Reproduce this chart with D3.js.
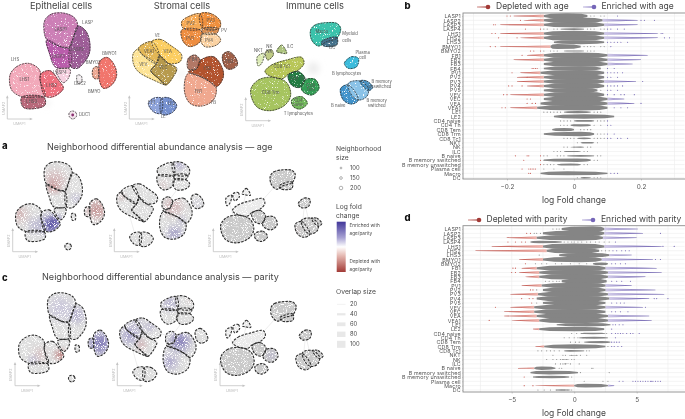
<!DOCTYPE html>
<html><head><meta charset="utf-8">
<script src="https://cdnjs.cloudflare.com/ajax/libs/d3/7.8.5/d3.min.js"></script>
<style>html,body{margin:0;padding:0;background:#fff}svg{display:block;opacity:.999}text{font-family:Inter,"Open Sans",sans-serif;fill:#4a4a4a}</style>
</head><body><div id="c"></div>
<script>
// ---------- DATA: differential abundance rows ----------
const rowLabels=["LASP1","LASP2","LASP3","LASP4","LHS1","LHS2","LHS3","BMYO1","BMYO2","FB1","FB2","FB3","FB4","PV1","PV2","PV3","PV4","PV5","VEV","VEC","VEA","VEA1","LE1","LE2","CD4 naive","CD4 Th","CD8 Tem","CD8 Trm","CD8 Tc1","NKT","NK","ILC","B naive","B memory switched","B memory unswitched","Plasma cell","Macro","DC"];
const ageLo=[-.09,-.09,-.09,-.04,-.09,-.09,-.06,-.07,-.03,-.09,-.09,-.09,-.09,-.1,-.09,-.09,-.09,-.09,-.09,-.09,-.1,-.11,-.03,-.06,0,-.01,-.065,-.09,.01,.02,-.01,-.03,-.02,-.09,-.05,-.03,-.1,.02];
const ageMid=[-.02,.01,.01,0,0,0,.02,-.05,0,.01,.01,.02,.02,.02,.02,.02,.02,.02,.02,.02,.02,.02,.01,.03,.03,.02,-.03,.02,.03,.04,.02,-.01,.02,.01,-.01,-.03,-.02,.03];
const ageHi=[.04,.085,.09,.03,.09,.09,.09,.02,.03,.1,.1,.1,.08,.09,.09,.09,.09,.07,.09,.1,.1,.1,.05,.12,.06,.05,0,.06,.05,.06,.03,.02,.06,.05,.02,-.03,.1,.05];
const ageWeight=[1,1,1,.3,1,1,.7,.9,.2,1,1,1,.8,1,1,1,1,.9,1,1,1,1,.4,.8,.35,.4,.6,.8,.3,.3,.2,.2,.3,.6,.35,.1,.7,.25];
const ageTailMin=[-.18,-.15,-.22,-.04,-.22,-.16,-.06,-.22,-.03,-.14,-.18,-.09,-.09,-.16,-.17,-.17,-.14,-.09,-.19,-.09,-.1,-.19,-.03,-.06,0,-.01,-.065,-.09,.01,.02,-.01,-.03,-.02,-.09,-.05,-.03,-.1,.02];
const ageTailMax=[.04,.19,.19,.03,.25,.25,.09,.02,.03,.22,.2,.175,.08,.09,.09,.185,.09,.07,.09,.15,.18,.1,.05,.12,.06,.05,0,.06,.05,.06,.03,.02,.06,.05,.02,-.03,.1,.05];
const ageDots=[[-.2,-.19,.05,.06,.08,.09,.13],[-.16,.2,.21,.24],[-.24,-.235],[-.145,-.1,-.09,-.08,-.06,-.05,.04,.05,.06,.08,.09,.1,.11,.13,.15],[-.245,-.235,.26,.265],[-.225,-.17,.27,.285],[.1,.11,.12,.13,.14,.16],[-.25,-.235,.03,.04,.05,.06,.08,.09,.11],[-.13,-.12,-.1,-.09,-.07,-.06,-.05,.04,.05,.06],[-.155],[],[],[-.125,-.12,-.115,-.11,.1,.12],[-.185,.1,.11,.12,.13,.145],[-.14,.1,.11,.13],[.205],[-.195,-.185,-.155,.1,.11,.12,.13,.145],[.08,.1,.11,.13],[-.21,-.2,.1,.12,.14,.15,.18],[-.14,-.13],[-.14,-.125,-.115,.2],[-.215,-.205,.12,.14,.16],[-.09,-.08,-.07,-.06,-.05,-.04,.06,.07,.08],[-.05,-.04],[-.04,-.03,-.02,-.01,.07,.08,.09,.1],[-.04,-.03,-.02,.06,.08,.1,.11],[.02,.03,.04,.05],[.07,.08,.09,.1,.12],[-.03,-.02,-.01,0,.06,.07,.08,.09,.1,.11,.13,.14,.16],[.01,.07],[-.03,-.02,0,.04,.05],[-.06,-.05,-.04,-.02,.03,.04],[-.175,-.14,-.135,-.1,-.09,-.08,-.05,-.04,-.03,.07,.08],[-.15,-.1,-.09,.06,.07],[-.1,-.09,-.08,-.07,-.06,.03,.04],[-.155,-.135,-.13,-.125,-.12,-.115,-.09,-.06,-.03],[-.135,-.13,.11,.12,.13],[.01,.06,.07,.08]];

const parLo=[-1,-2.5,-3,-3.5,-2.5,-2.2,-1.2,-2.5,1.5,-3,-2.8,-2.8,-1,-2.6,-2.5,-2.9,-3,-2.5,-3.2,-3.2,-3,-2.8,-1.4,-2.8,.5,.4,.8,-2.4,-.8,-.4,-1,-.8,-3.2,-3.5,-3.3,.5,0,-1.5];
const parMid=[1.5,1,.5,-2.8,0,0,1,.5,2.2,.5,.5,.5,1,.5,.5,0,0,.5,0,0,0,0,1,0,1.5,1.6,2.2,0,-.3,-.4,-1,-.8,-2.6,-2,-1.8,.5,.9,-1];
const parHi=[2.4,2.4,2.3,-1,2.4,2,2.8,2.2,2.7,2.5,2.7,2.7,2.6,2.5,2.5,2.7,2.8,2.5,2.5,2.5,2.7,2.7,2.9,2.4,2.5,2.7,2.9,2.5,.8,.3,-.4,-.4,-1.5,.3,-.4,.5,2.7,-.3];
const parWeight=[1,1,1,.45,1,1,.8,1,.5,1,1,1,1,1,1,1,1,.9,1,1,1,1,.6,.8,.25,.35,.4,.8,.3,.1,.1,.1,.6,.65,.45,0,.7,.25];
const parTailMin=[-1,-2.5,-5.4,-3.5,-6.6,-7.9,-1.2,-4.4,1.5,-4.2,-4.4,-3.9,-1,-4.2,-2.5,-5.1,-3,-2.5,-5.1,-5.6,-5.6,-5,-1.4,-3.3,.5,.4,.8,-3.1,-.8,-.4,-1,-.8,-4.5,-3.5,-3.3,.5,-3.1,-1.5];
const parTailMax=[5.1,5.5,5,-1,7,2,4.6,6.3,2.7,6.6,7,5.7,2.6,4.6,6.5,7.2,6,2.5,5.5,2.5,6,6.2,2.9,2.4,2.5,2.7,2.9,2.5,.8,.3,-.4,-.4,-1.5,.3,-.4,.5,3.2,-.3];
const parDots=[[-1.7,-1.4,-1.2],[-3.8,-3.5,-3.2,-3,-2.7,6.9],[],[-5.3,-4.7,-4.2,-3.9,-.8,-.5,-.2,0,.3,.6,1,1.3,1.7,2,2.4,2.8,3.3],[7.1,8],[2.2,2.5,2.8,3.1,3.4,3.8,4.1,4.4],[-2.8],[6.5,6.9],[-3.9,-3.1,-2.6,-2.2,-1.5,-1,-.3,.4,1,3,3.3,3.7,4.1],[-4.9,-4.7],[-5,-4.7],[],[-2.3,-2,-1.7,-1.4,-1.2,3,3.4,3.8,4.5],[],[-3.5,-3.3,-3],[],[-4.2,-3.6,-3.3,6.4,6.6,7.5],[-3.4,-3,3,3.4,3.7,4],[-6.3,5.7],[3,3.3,3.7,4.3],[],[-6.8],[3.1,3.3,3.6,3.9],[3],[-.2,.2,.6,1,2.6,3,3.3,3.5,3.7,3.9,4.2,4.5,4.7,5.2],[-.8,-.4,0,.3,.7,1,3.3],[-.3,.1,.4,3,3.2,3.4,3.6],[2.7,3,3.2,3.5,3.8],[-2.9,-2.6,-2.2,-1.9,-1.6,-1.2,1,1.2],[-1.7,-.9,-.7,-.2,.2,.5,1],[-2.2,-1.7,-1.4,-1.1,-.9,-.6,-.2,0],[-1.5,-1.1,-.9,-.7,-.3,.4],[1.4,1.5,-1.2,-1],[2.8,.5],[-4,-3,-2.9,-.2],[.8,2.3,2.7,3.6,3.9,4.7,4.9,5.1,5.3,5.5,5.7,5.9,6.1,6.2,6.3,6.5,6.7,6.9],[-4,-3.3],[-2.9,-2.4,-1.9,-1.4,-.8,-.5,-.2]];

// ---------- DATA: cluster outlines in UMAP units ----------
const epithelial={LASP1:[[135,60],[155,42],[195,40],[225,55],[233,80],[222,105],[210,140],[185,140],[140,118],[132,90]],LASP2:[[233,78],[255,90],[268,120],[268,160],[250,190],[232,205],[212,200],[208,148],[222,108]],LASP3:[[140,120],[185,142],[208,148],[210,200],[190,205],[165,200],[150,165]],LASP4:[[168,210],[210,208],[205,235],[190,248],[175,230]],LHS1:[[30,225],[50,200],[85,190],[115,205],[122,222],[120,240],[135,288],[110,291],[65,290],[35,270]],LHS2:[[122,222],[150,212],[175,240],[190,265],[160,290],[135,288],[122,250]],LHS3:[[65,292],[132,292],[135,315],[110,325],[70,322]],DDC2:[[232,225],[244,228],[244,248],[234,250],[230,238]],BMYO2:[[280,205],[292,200],[295,235],[282,235],[277,222]],BMYO1:[[298,185],[320,172],[340,190],[350,225],[335,255],[310,265],[298,240],[297,205]],DDC1:[[218,333],[228,338],[229,350],[218,357],[208,350],[208,338]]};
const stromal={VEA1:[[415,145],[455,125],[478,165],[468,190],[425,162]],VEA:[[455,125],[480,118],[510,135],[545,165],[540,185],[505,190],[478,165]],VEV:[[400,160],[415,147],[425,162],[468,192],[452,212],[475,235],[497,255],[460,240],[415,215],[400,190]],VEC:[[470,190],[478,167],[505,190],[530,205],[520,230],[497,255],[475,235],[453,212]],LE1:[[445,310],[460,295],[485,295],[482,340],[460,335]],LE2:[[485,295],[510,295],[530,315],[520,335],[495,345],[483,340]],PV2:[[545,65],[565,50],[600,42],[605,85],[550,85]],PV3:[[600,42],[630,40],[660,62],[658,85],[608,84]],PV5:[[608,86],[655,86],[650,100],[608,100]],PV1:[[545,90],[603,92],[600,125],[570,140],[550,125]],PV4:[[605,103],[648,103],[662,120],[650,135],[615,140],[603,125]],FB4:[[565,175],[585,165],[600,180],[590,205],[565,207]],FB2:[[600,182],[640,170],[665,200],[670,230],[650,260],[620,238],[565,215],[590,207]],FB1:[[565,220],[620,240],[648,262],[640,300],[605,318],[570,310],[553,270]],FB3:[[668,165],[685,155],[705,170],[712,195],[690,208],[675,200]]};
const immune={Macro:[[932,90],[945,75],[980,68],[1010,70],[1022,85],[1010,115],[980,125],[955,138],[935,120]],DC:[[965,125],[1010,112],[1010,135],[970,137]],Plasma:[[1033,190],[1055,170],[1075,175],[1070,200],[1045,205]],BNaive:[[1022,265],[1045,255],[1075,300],[1055,312],[1030,300]],BSwitched:[[1045,250],[1080,243],[1105,265],[1100,290],[1075,300],[1055,285]],BUnswitched:[[1080,243],[1100,243],[1118,262],[1105,272]],CD8Trm:[[752,270],[775,240],[820,232],[860,248],[872,285],[855,315],[810,332],[770,320]],CD8Tc1:[[795,215],[815,195],[860,180],[905,172],[912,190],[895,210],[865,222],[850,235],[810,228]],CD4Th:[[865,225],[895,215],[915,235],[900,262],[875,255]],CD8Tem:[[915,240],[945,238],[957,265],[935,285],[905,270]],CD4Naive:[[875,300],[905,290],[922,310],[900,327],[880,320]],NKT:[[772,170],[792,160],[785,190],[775,198]],NK:[[797,155],[815,150],[820,165],[803,180]],ILC:[[830,155],[845,135],[860,160],[840,158]]};
const clusterColors={LASP1:"#cc7fb6",LASP2:"#9c5c96",LASP3:"#b95cab",LASP4:"#f5d0e0",LHS1:"#f2a9ba",LHS2:"#ee6f7e",LHS3:"#b8677a",DDC2:"#f3eef0",BMYO2:"#eca892",BMYO1:"#f1746c",DDC1:"#f4e6ee",VEA1:"#e2b654",VEA:"#fbcd60",VEV:"#fde394",VEC:"#b79a4d",LE1:"#8fa4da",LE2:"#7490cf",PV2:"#f6aa55",PV3:"#ef8f3c",PV5:"#d98d50",PV1:"#ee8d40",PV4:"#fbd2a2",FB4:"#b27866",FB2:"#b2522f",FB1:"#f0a88f",FB3:"#a0604a",Macro:"#3bc2ab",DC:"#44728c",Plasma:"#3abbdb",BNaive:"#3f92ca",BSwitched:"#8ac2e7",BUnswitched:"#4b92c2",CD8Trm:"#a6c45e",CD8Tc1:"#b8c658",CD4Th:"#207c42",CD8Tem:"#329d54",CD4Naive:"#72b95c",NKT:"#dcebb6",NK:"#c0cc86",ILC:"#adc47f"};
const umapLabels=[["LASP1",182,90],["LASP",263,70],["LASP2",232,150],["LASP3",175,172],["LASP4",180,218],["LHS",45,180],["LHS1",73,240],["LHS2",155,258],["LHS3",95,305],["BMYO1",328,162],["BMYO2",280,190],["DDC2",240,252],["BMYO",283,275],["DDC1",253,345],["VE",472,107],["VEA1",447,157],["VEA",503,155],["VEV",430,195],["VEC",490,203],["FB4",580,180],["FB2",622,208],["FB1",595,275],["FB",640,310],["FB3",688,185],["PV2",572,72],["PV3",632,63],["PV5",632,91],["PV",672,92],["PV1",570,118],["PV4",627,124],["LE1",455,310],["LE2",515,313],["LE",490,352],["NKT",775,153],["NK",808,142],["NK",808,155],["ILC",870,142],["CD8 Tc1",845,200],["CD8 Trm",812,278],["CD4 Th",892,238],["CD8",932,258],["Tem",932,270],["CD4",895,303],["naive",895,315],["T lymphocytes",895,342],["Macro",965,95],["Myeloid",1050,103],["cells",1040,123],["DC",997,145],["Plasma",1088,160],["cell",1088,175],["B lymphocytes",1040,222],["B naive",1015,317],["B memory",1145,247],["unswitched",1140,262],["B memory",1130,303],["switched",1130,317]];
const panelLinks=[["LHS2","LASP4"],["LASP3","LASP4"],["LHS1","LASP4"],["VEA","FB4"],["FB2","FB3"],["FB1","FB3"],["LE1","VEV"],["PV4","FB4"],["CD8Trm","Macro"],["Plasma","BSwitched"],["Macro","DC"],["CD8Trm","NKT"],["CD8Trm","ILC"],["CD8Tem","CD8Tc1"],["Plasma","BNaive"]];
const ageSpots=[[155,267,36,.85],[172,255,16,.95],[99,267,26,.3],[45,230,28,-.3],[35,222,8,-.7],[171,105,40,-.28],[165,130,16,-.65],[247,170,12,.5],[322,212,36,-.5],[626,50,16,.45],[566,122,12,-.3],[416,164,10,-.5],[602,200,36,-.28],[608,297,24,.6],[632,249,10,.6],[689,188,10,.35],[1027,285,7,-.45]];
const paritySpots=[[176,260,16,-.9],[105,260,22,-.28],[81,278,13,.4],[176,94,46,.16],[236,118,28,.38],[319,219,44,.6],[577,65,22,.45],[648,54,9,-.3],[434,179,36,.38],[458,143,22,.3],[506,149,18,.3],[476,214,16,-.4],[613,202,38,.6],[577,274,28,.42],[934,259,13,.4],[190,262,7,-1]];
const sizeLegend=[100,150,200];
const overlapLegend=[20,40,60,80,100];

// ---------- LAYOUT ----------
const W=685,H=419;
const svg=d3.select("#c").append("svg").attr("width",W).attr("height",H);
const defs=svg.append("defs");
const T=(sel,x,y,s,size,opt={})=>sel.append("text").attr("x",x).attr("y",y).attr("font-size",size).attr("text-anchor",opt.a||"start").attr("font-weight",opt.w||400).attr("dominant-baseline","middle").style("fill",opt.c||"#4a4a4a").text(s);
const speckle=(id,cut,seed)=>{const f=defs.append("filter").attr("id",id).attr("x","-5%").attr("y","-5%").attr("width","110%").attr("height","110%");
 f.append("feTurbulence").attr("type","fractalNoise").attr("baseFrequency",1.1).attr("numOctaves",2).attr("seed",seed).attr("result","n");
 f.append("feColorMatrix").attr("in","n").attr("type","matrix").attr("values",`0 0 0 0 0 0 0 0 0 0 0 0 0 0 0 7 0 0 0 ${cut}`).attr("result","m");
 f.append("feComposite").attr("in","SourceGraphic").attr("in2","m").attr("operator","in");};
speckle("spA",-1.6,4);speckle("spB",-2.2,9);
defs.append("filter").attr("id","soft").attr("x","-60%").attr("y","-60%").attr("width","220%").attr("height","220%").append("feGaussianBlur").attr("stdDeviation",3);
defs.append("filter").attr("id","soft2").attr("x","-60%").attr("y","-60%").attr("width","220%").attr("height","220%").append("feGaussianBlur").attr("stdDeviation",4);

const groups=[epithelial,stromal,immune];
const allClusters=Object.assign({},epithelial,stromal,immune);
const outline=(sx,sy)=>d3.line().x(d=>sx(d[0])).y(d=>sy(d[1])).curve(d3.curveCatmullRomClosed.alpha(.5));
const scalesFor=(k,ox,oy)=>[d3.scaleLinear().domain([0,300]).range([ox,ox+100*k]),d3.scaleLinear().domain([0,300]).range([oy,oy+100*k])];
const dash=(sel,w)=>sel.attr("fill","none").attr("stroke","#2e2e2e").attr("stroke-width",w).attr("stroke-dasharray",w>1?"2.4 1.3":"1.9 1").attr("stroke-linecap","butt");

// Overview UMAP
const [sx0,sy0]=scalesFor(1,0,0);
const line0=outline(sx0,sy0);
const overview=svg.append("g");
overview.append("g").attr("filter","url(#soft)").selectAll("circle").data(["a","b","c"]).join("circle")
 .attr("cx",(d,i)=>sx0([140,545,940][i])).attr("cy",(d,i)=>sy0([310,222,205][i])).attr("r",(d,i)=>[3,3,6][i]).attr("fill","#ececec");
const tf=overview.append("g").attr("filter","url(#spA)");
tf.selectAll("path").data(Object.entries(allClusters)).join("path").attr("d",d=>line0(d[1])).attr("fill",d=>clusterColors[d[0]]).attr("stroke",d=>clusterColors[d[0]]).attr("stroke-width",.8);
overview.append("circle").attr("cx",sx0(218)).attr("cy",sy0(345)).attr("r",1.4).attr("fill","#8a2f70");
dash(overview.append("g").selectAll("path").data(Object.values(allClusters)).join("path").attr("d",line0),.75);
umapLabels.forEach(l=>T(overview,sx0(l[1]),sy0(l[2]),l[0],4.2,{a:"middle",c:"#555"}));
[["Epithelial cells",61],["Stromal cells",182],["Immune cells",315]].forEach(t=>T(svg,t[1],6.8,t[0],9.3,{a:"middle",c:"#444"}));

// UMAP orientation arrows
const arrows=(ox,oy,len)=>{const g=svg.append("g");
 g.append("path").attr("d",`M${ox},${oy-len*.93}V${oy}H${ox+len}`).attr("fill","none").attr("stroke","#c4c4c4").attr("stroke-width",.8);
 g.append("path").attr("d",`M${ox+len+1.5},${oy}l-3,-1.3v2.6z M${ox},${oy-len*.93-1.5}l-1.3,3h2.6z`).attr("fill","#c4c4c4");
 T(g,ox+len/2,oy+5,"UMAP1",3.6,{a:"middle",c:"#bbb"});
 T(g,0,0,"UMAP2",3.6,{a:"middle",c:"#bbb"}).attr("transform",`translate(${ox-3.5},${oy-len*.45}) rotate(-90)`);};
[[7.3,119],[129.3,119],[245.7,120.7],[12.7,251.7],[114.3,251.7],[213.3,251.7],[15,385.7],[117.3,385.7],[220,385.7]].forEach(p=>arrows(p[0],p[1],24));

// Neighbourhood panels
const colorLog=d3.scaleLinear().domain([-1,0,1]).range(["#a23a36","#e4e2e6","#41379a"]);
const grayOf=n=>immune[n]?(["NKT","ILC","NK"].includes(n)?"#ececec":n==="CD8Tc1"?"#eaeaea":"#c9c9c9"):"#dedede";
function neighbourPanel(id,off,k,spots){
 const g=svg.append("g");
 groups.forEach((grp,i)=>{
  const [sx,sy]=scalesFor(k,off[i][0],off[i][1]); const ln=outline(sx,sy);
  const inner=g.append("g");
  const names=Object.keys(grp);
  inner.selectAll("line").data(panelLinks.filter(l=>grp[l[0]]&&grp[l[1]])).join("line")
   .attr("x1",d=>sx(d3.polygonCentroid(grp[d[0]])[0])).attr("y1",d=>sy(d3.polygonCentroid(grp[d[0]])[1]))
   .attr("x2",d=>sx(d3.polygonCentroid(grp[d[1]])[0])).attr("y2",d=>sy(d3.polygonCentroid(grp[d[1]])[1]))
   .attr("stroke","#e6e6e6").attr("stroke-width",.7);
  const clipId=id+"c"+i;
  const cp=defs.append("clipPath").attr("id",clipId);
  names.forEach(n=>cp.append("path").attr("d",ln(grp[n])));
  const sp=inner.append("g").attr("filter","url(#spB)");
  sp.selectAll("path").data(names).join("path").attr("d",n=>ln(grp[n])).attr("fill",grayOf).attr("stroke",grayOf).attr("stroke-width",.8);
  const cl=sp.append("g").attr("clip-path",`url(#${clipId})`);
  cl.selectAll("circle").data(spots.filter(s=>{const lo=[0,400,740][i],hi=[400,740,1200][i];return s[0]>=lo&&s[0]<hi;})).join("circle")
   .attr("cx",s=>sx(s[0])).attr("cy",s=>sy(s[1])).attr("r",s=>s[2]*k/3*.85).attr("fill",s=>colorLog(s[3]))
   .attr("filter",s=>s[2]>20?"url(#soft2)":"url(#soft)").attr("opacity",.95);
  dash(inner.append("g").selectAll("path").data(names).join("path").attr("d",n=>ln(grp[n])),1.1);
 });
}
neighbourPanel("a",[[7.7,151.2],[6.6,151.2],[12.5,151]],.83,ageSpots);
neighbourPanel("p",[[10.6,282],[8.3,285],[10,282.5]],.84,paritySpots);
T(svg,47,147.2,"Neighborhood differential abundance analysis — age",9,{c:"#444"});
T(svg,42,278,"Neighborhood differential abundance analysis — parity",9.1,{c:"#444"});
[["a",2,146],["c",2,278],["b",404.5,6.5],["d",404.5,218]].forEach(l=>T(svg,l[1],l[2],l[0],9.5,{w:800,c:"#111"}));

// Right-side legends
const leg=svg.append("g");
T(leg,336,149,"Neighborhood",6.7,{});T(leg,336,158,"size",6.7,{});
sizeLegend.forEach((v,i)=>{leg.append("circle").attr("cx",341).attr("cy",168+i*10).attr("r",.9+i*.45).attr("fill","#fff").attr("stroke","#666").attr("stroke-width",.5);T(leg,350,168+i*10,v,5.8,{});});
T(leg,336,207,"Log fold",6.7,{});T(leg,336,216,"change",6.7,{});
const grad=defs.append("linearGradient").attr("id","cbar").attr("x1",0).attr("x2",0).attr("y1",0).attr("y2",1);
[["0%","#41379a"],["32%","#a9a3d3"],["50%","#ffffff"],["68%","#e4b7b0"],["100%","#a23a36"]].forEach(s=>grad.append("stop").attr("offset",s[0]).attr("stop-color",s[1]));
leg.append("rect").attr("x",336.7).attr("y",221.7).attr("width",9).attr("height",50.3).attr("fill","url(#cbar)");
[["Enriched with",225.7],["age/parity",234],["Depleted with",261.7],["age/parity",270]].forEach(t=>T(leg,349.5,t[1],t[0],4.7,{}));
T(leg,336,291.7,"Overlap size",6.8,{});
overlapLegend.forEach((v,i)=>{leg.append("line").attr("x1",337).attr("x2",345.5).attr("y1",304.3+i*10).attr("y2",304.3+i*10).attr("stroke","#e8e8e8").attr("stroke-width",.6+i*1.6);T(leg,350,304.3+i*10,v,5.8,{});});

// Differential abundance panels
const mkGrad=(id,a,b)=>{const g=defs.append("linearGradient").attr("id",id);g.append("stop").attr("offset","0%").attr("stop-color",a);g.append("stop").attr("offset","100%").attr("stop-color",b);};
mkGrad("redG","#bb4c45","#f0b8b1");mkGrad("purG","#d0c9e8","#6a5cad");

function abundancePanel(cfg){
 const {top,bottom,domain,range,ticks,minor,lo,mid,hi,weight,tmin,tmax,dots,redCut,purCut,firstY,lastY}=cfg;
 const g=svg.append("g");
 const x=d3.scaleLinear().domain(domain).range(range);
 const y=d3.scalePoint().domain(rowLabels).range([firstY,lastY]);
 const L=463,R=684.5;
 const cid="clip"+Math.round(top);
 defs.append("clipPath").attr("id",cid).append("rect").attr("x",L).attr("y",top).attr("width",R-L).attr("height",bottom-top);
 g.selectAll(".h").data(rowLabels).join("line").attr("x1",L).attr("x2",R).attr("y1",d=>y(d)).attr("y2",d=>y(d)).attr("stroke","#ececec").attr("stroke-width",.6);
 g.selectAll(".v").data(minor).join("line").attr("x1",d=>x(d)).attr("x2",d=>x(d)).attr("y1",top).attr("y2",bottom).attr("stroke","#ececec").attr("stroke-width",.6);
 const marks=g.append("g").attr("clip-path",`url(#${cid})`);
 const area=d3.area().x(d=>x(d[0])).y0(d=>d[1]-d[2]).y1(d=>d[1]+d[2]);
 rowLabels.forEach((r,i)=>{
  const yy=y(r),w=weight[i];
  if(w<=0) return;
  const gray=[[lo[i],yy,1*w],[lo[i]+(mid[i]-lo[i])*.3,yy,2.3*w],[mid[i],yy,2.8*w],[hi[i]-(hi[i]-mid[i])*.3,yy,2.3*w],[hi[i],yy,1*w]];
  if(tmin[i]<lo[i]) marks.append("path").attr("d",area([[tmin[i],yy,.22],[lo[i]+(tmin[i]-lo[i])*.5,yy,.75*w],[lo[i],yy,1.5*w]])).attr("fill","url(#redG)");
  if(tmax[i]>hi[i]) marks.append("path").attr("d",area([[hi[i],yy,1.5*w],[hi[i]+(tmax[i]-hi[i])*.5,yy,.8*w],[tmax[i],yy,.25]])).attr("fill","url(#purG)");
  marks.append("path").attr("d",area(gray)).attr("fill","#858585");
 });
 rowLabels.forEach((r,i)=>{
  marks.selectAll(null).data(dots[i]).join("circle").attr("cx",d=>x(d)).attr("cy",y(r)).attr("r",.55)
   .attr("fill",d=>d<redCut?"#c9534c":d>purCut?"#6f60b3":"#8a8a8a");
 });
 g.append("rect").attr("x",L).attr("y",top).attr("width",R-L+2).attr("height",bottom-top).attr("fill","none").attr("stroke","#8c8c8c").attr("stroke-width",.9);
 const ay=d3.axisLeft(y).tickSize(1).tickPadding(1.2);
 const ag=g.append("g").attr("transform",`translate(${L},0)`).call(ay);
 ag.select(".domain").remove();ag.selectAll("line").attr("stroke","#999").attr("stroke-width",.4);
 ag.selectAll("text").attr("font-size",5.3).attr("letter-spacing",.15).style("fill","#555").attr("font-family","Inter");
 const ax=d3.axisBottom(x).tickValues(ticks).tickSize(1.5).tickPadding(4).tickFormat(cfg.fmt);
 const axg=g.append("g").attr("transform",`translate(0,${bottom})`).call(ax);
 axg.select(".domain").remove();axg.selectAll("line").attr("stroke","#999").attr("stroke-width",.5);
 axg.selectAll("text").attr("font-size",6.4).style("fill","#555").attr("font-family","Inter");
 T(g,574,cfg.labelY,"log Fold change",8.5,{a:"middle",c:"#444"});
 const ly=cfg.legY;
 cfg.legend.forEach(l=>{
  const lg=g.append("g");
  const gid="lg"+l.x0+"_"+ly;
  const gr=defs.append("linearGradient").attr("id",gid);
  gr.append("stop").attr("offset","0%").attr("stop-color",l.c0);gr.append("stop").attr("offset","100%").attr("stop-color",l.c1);
  lg.append("rect").attr("x",l.x0).attr("y",ly-.6).attr("width",l.x1-l.x0).attr("height",1.2).attr("fill",`url(#${gid})`);
  lg.append("circle").attr("cx",l.x1).attr("cy",ly).attr("r",2.3).attr("fill",l.c1);
  T(lg,l.tx,ly,l.t,8.5,{c:"#444"});
 });
}
abundancePanel({top:13,bottom:179,domain:[-.2,.2],range:[507,641],ticks:[-.2,0,.2],minor:[-.3,-.2,-.1,0,.1,.2,.3],lo:ageLo,mid:ageMid,hi:ageHi,weight:ageWeight,tmin:ageTailMin,tmax:ageTailMax,dots:ageDots,redCut:-.09,purCut:.09,firstY:16,lastY:177.7,labelY:201,legY:7,fmt:d=>d===0?"0":d3.format(".1f")(d).replace("-","−"),
 legend:[{x0:477,x1:488,c0:"#d9a09c",c1:"#a23a36",tx:496,t:"Depleted with age"},{x0:583,x1:594,c0:"#c9c2e4",c1:"#7566b8",tx:601.5,t:"Enriched with age"}]});
abundancePanel({top:225.7,bottom:392,domain:[-5,5],range:[511.7,636.7],ticks:[-5,0,5],minor:[-7.5,-5,-2.5,0,2.5,5,7.5],lo:parLo,mid:parMid,hi:parHi,weight:parWeight,tmin:parTailMin,tmax:parTailMax,dots:parDots,redCut:-3.2,purCut:2.95,firstY:229,lastY:390,labelY:414,legY:220,fmt:d=>d<0?"−"+Math.abs(d):d,
 legend:[{x0:468,x1:479,c0:"#d9a09c",c1:"#a23a36",tx:486.5,t:"Depleted with parity"},{x0:582,x1:593,c0:"#c9c2e4",c1:"#7566b8",tx:601,t:"Enriched with parity"}]});
</script></body></html>
